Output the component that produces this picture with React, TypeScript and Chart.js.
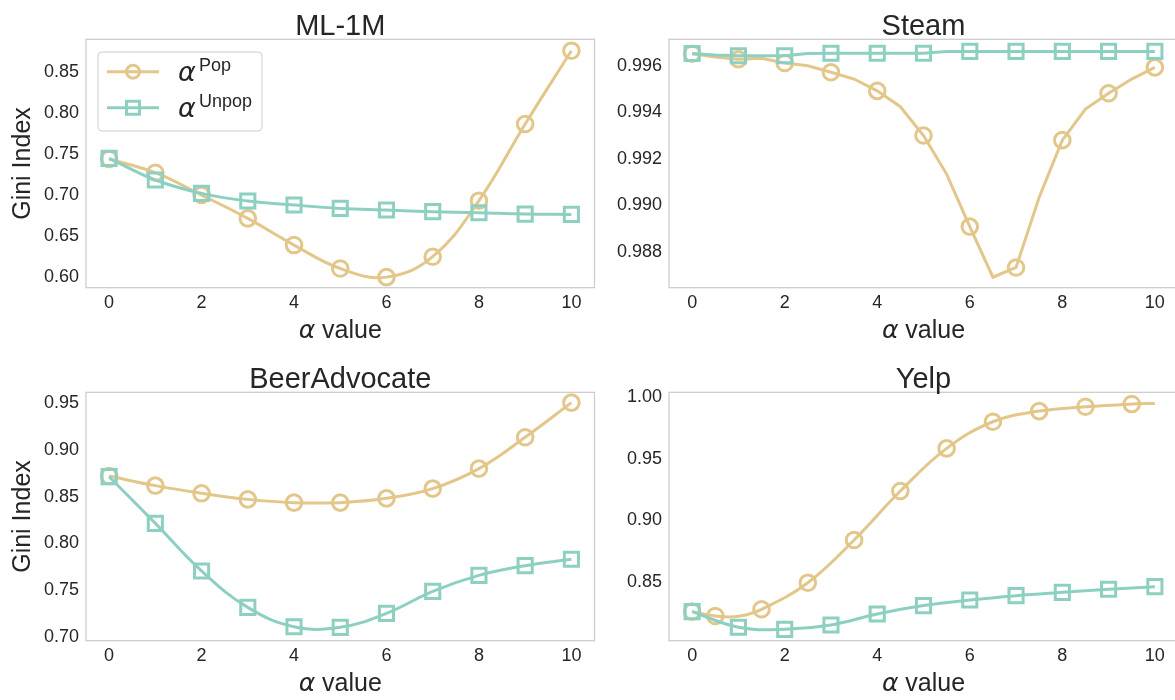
import React, { useEffect, useRef } from "react";
import { Chart, registerables } from "chart.js";

Chart.register(...registerables);

// ---------------- data ----------------
const alphaTicks = [0, 2, 4, 6, 8, 10];
const intX = [0, 1, 2, 3, 4, 5, 6, 7, 8, 9, 10];
const halfX = [0, 0.5, 1, 1.5, 2, 2.5, 3, 3.5, 4, 4.5, 5, 5.5, 6, 6.5, 7, 7.5, 8, 8.5, 9, 9.5, 10];

// ML-1M
const mlPop = [0.7435, 0.7268, 0.6996, 0.6711, 0.6386, 0.6100, 0.5995, 0.6244, 0.6927, 0.7862, 0.8756];
const mlUnpop = [0.7443, 0.7179, 0.7016, 0.6923, 0.6874, 0.6833, 0.6813, 0.6793, 0.6780, 0.6764, 0.6760];
const mlYTicks = [0.60, 0.65, 0.70, 0.75, 0.80, 0.85];

// Steam (half-step line, markers on integers)
const steamPop = [0.99652, 0.99638, 0.99628, 0.99632, 0.99612, 0.99600, 0.99572, 0.99543, 0.99492, 0.99424, 0.99300,
  0.99134, 0.98908, 0.98690, 0.98732, 0.99034, 0.99280, 0.99414, 0.99482, 0.99543, 0.99593];
const steamUnpop = [0.99653, 0.99646, 0.99643, 0.99643, 0.99643, 0.99653, 0.99654, 0.99654, 0.99654, 0.99654, 0.99654,
  0.99662, 0.99662, 0.99662, 0.99662, 0.99662, 0.99662, 0.99662, 0.99662, 0.99662, 0.99662];
const steamYTicks = [0.988, 0.990, 0.992, 0.994, 0.996];

// BeerAdvocate
const beerPop = [0.8721, 0.8618, 0.8536, 0.8471, 0.8436, 0.8436, 0.8482, 0.8586, 0.8800, 0.9136, 0.9507];
const beerUnpop = [0.8714, 0.8214, 0.7704, 0.7314, 0.7107, 0.7100, 0.7250, 0.7486, 0.7657, 0.7761, 0.7829];
const beerYTicks = [0.70, 0.75, 0.80, 0.85, 0.90, 0.95];

// Yelp
const yelpPopX = [0, 0.5, 1, 1.5, 2.5, 3.5, 4.5, 5.5, 6.5, 7.5, 8.5, 9.5, 10];
const yelpPop = [0.8263, 0.8228, 0.8225, 0.8282, 0.8497, 0.8842, 0.9238, 0.9583, 0.9798, 0.9884, 0.9919, 0.9941, 0.9946];
const yelpPopMarkers = [0, 0.5, 1.5, 2.5, 3.5, 4.5, 5.5, 6.5, 7.5, 8.5, 9.5];
const yelpUnpop = [0.8263, 0.8137, 0.8120, 0.8155, 0.8244, 0.8312, 0.8357, 0.8392, 0.8419, 0.8444, 0.8465];
const yelpYTicks = [0.85, 0.90, 0.95, 1.00];

// ---------------- style ----------------
const POP = "#e3c68a";
const UNPOP = "#8dd0c2";
const TEXT = "#262626";
const SANS = '"Liberation Sans", Arial, sans-serif';
const MATH = '"DejaVu Sans", sans-serif';

type Series = { x: number[]; y: number[]; markers: number[]; kind: "pop" | "unpop"; tension: number };
type PanelCfg = {
  title: string;
  left: number; top: number; width: number; height: number;
  area: { left: number; top: number; right: number; bottom: number };
  yMin: number; yMax: number; yTicks: number[]; yDec: number;
  yTitle: boolean; legend: boolean;
  series: Series[];
};

function drawAlphaLabel(ctx: CanvasRenderingContext2D, cx: number, baseline: number, size: number, rest: string) {
  ctx.font = `italic ${size}px ${MATH}`;
  const wa = ctx.measureText("\u03b1").width;
  ctx.font = `${size}px ${SANS}`;
  const wr = ctx.measureText(rest).width;
  const x0 = cx - (wa + wr) / 2;
  ctx.textAlign = "left";
  ctx.textBaseline = "alphabetic";
  ctx.font = `italic ${size}px ${MATH}`;
  ctx.fillText("\u03b1", x0, baseline);
  ctx.font = `${size}px ${SANS}`;
  ctx.fillText(rest, x0 + wa, baseline);
}

function Panel({ cfg }: { cfg: PanelCfg }) {
  const ref = useRef<HTMLCanvasElement | null>(null);
  useEffect(() => {
    if (!ref.current) return;
    const a = cfg.area;
    const decor = {
      id: "decor" + cfg.title,
      afterDraw(chart: any) {
        const ctx = chart.ctx as CanvasRenderingContext2D;
        const ca = chart.chartArea;
        ctx.save();
        // frame
        ctx.strokeStyle = "#cccccc";
        ctx.lineWidth = 1.25;
        ctx.strokeRect(ca.left, ca.top, ca.right - ca.left, ca.bottom - ca.top);
        ctx.fillStyle = TEXT;
        // title
        ctx.font = `29px ${SANS}`;
        ctx.textAlign = "center";
        ctx.textBaseline = "alphabetic";
        ctx.fillText(cfg.title, (ca.left + ca.right) / 2, ca.top - 4.5);
        // x title
        drawAlphaLabel(ctx, (ca.left + ca.right) / 2, ca.bottom + 50, 25, " value");
        // y title
        if (cfg.yTitle) {
          ctx.save();
          ctx.translate(29.5, (ca.top + ca.bottom) / 2);
          ctx.rotate(-Math.PI / 2);
          ctx.font = `25px ${SANS}`;
          ctx.textAlign = "center";
          ctx.textBaseline = "alphabetic";
          ctx.fillText("Gini Index", 0, 0);
          ctx.restore();
        }
        // legend
        if (cfg.legend) {
          const bx = 98, by = 52, bw = 164, bh = 79;
          ctx.beginPath();
          (ctx as any).roundRect(bx, by, bw, bh, 4);
          ctx.fillStyle = "rgba(255,255,255,0.85)";
          ctx.fill();
          ctx.strokeStyle = "#cccccc";
          ctx.lineWidth = 1;
          ctx.stroke();
          const rows = [
            { y: 71.7, color: POP, kind: "pop", sup: "Pop" },
            { y: 107.7, color: UNPOP, kind: "unpop", sup: "Unpop" },
          ];
          rows.forEach((r) => {
            ctx.strokeStyle = r.color;
            ctx.lineWidth = 3;
            ctx.beginPath();
            ctx.moveTo(107, r.y);
            ctx.lineTo(159, r.y);
            ctx.stroke();
            ctx.beginPath();
            if (r.kind === "pop") ctx.arc(133, r.y, 6.5, 0, Math.PI * 2);
            else ctx.rect(133 - 6.5, r.y - 6.5, 13, 13);
            ctx.stroke();
            ctx.fillStyle = TEXT;
            ctx.textAlign = "left";
            ctx.textBaseline = "alphabetic";
            ctx.font = `italic 27px ${MATH}`;
            ctx.fillText("\u03b1", 178, r.y + 9);
            ctx.font = `18px ${SANS}`;
            ctx.fillText(r.sup, 199, r.y - 0.5);
          });
        }
        ctx.restore();
      },
    };

    const datasets = cfg.series.map((s) => {
      const isPop = s.kind === "pop";
      const color = isPop ? POP : UNPOP;
      const r = isPop ? 7.8 : 10;
      return {
        label: isPop ? "Pop" : "Unpop",
        data: s.x.map((xv, i) => ({ x: xv, y: s.y[i] })),
        borderColor: color,
        backgroundColor: "rgba(0,0,0,0)",
        borderWidth: 3,
        tension: s.tension,
        pointStyle: isPop ? "circle" : "rect",
        pointRadius: s.x.map((xv) => (s.markers.includes(xv) ? r : 0)),
        pointHoverRadius: 0,
        pointBorderWidth: 3,
        pointBorderColor: color,
        pointBackgroundColor: "rgba(0,0,0,0)",
        order: isPop ? 1 : 0,
        clip: false as any,
      };
    });

    const chart = new Chart(ref.current, {
      type: "line",
      data: { datasets },
      plugins: [decor],
      options: {
        responsive: false,
        animation: false,
        devicePixelRatio: 1,
        layout: { padding: { left: 0, top: a.top, right: cfg.width - a.right, bottom: 0 } },
        plugins: { legend: { display: false }, tooltip: { enabled: false }, title: { display: false } },
        events: [],
        scales: {
          x: {
            type: "linear",
            min: -0.5,
            max: 10.5,
            grid: { display: false, drawTicks: false },
            border: { display: false },
            afterBuildTicks: (s: any) => { s.ticks = alphaTicks.map((v) => ({ value: v })); },
            afterFit: (s: any) => {
              s.height = cfg.height - a.bottom;
              s.paddingLeft = 0;
              s.paddingRight = 0;
            },
            ticks: {
              autoSkip: false, maxRotation: 0, padding: 5, color: TEXT,
              font: { family: SANS, size: 18 },
              callback: (v: any) => String(v),
            },
          },
          y: {
            type: "linear",
            min: cfg.yMin,
            max: cfg.yMax,
            grid: { display: false, drawTicks: false },
            border: { display: false },
            afterBuildTicks: (s: any) => { s.ticks = cfg.yTicks.map((v) => ({ value: v })); },
            afterFit: (s: any) => {
              s.width = a.left;
              s.paddingTop = 0;
              s.paddingBottom = 0;
            },
            ticks: {
              autoSkip: false, padding: 7, color: TEXT,
              font: { family: SANS, size: 18 },
              callback: (v: any) => Number(v).toFixed(cfg.yDec),
            },
          },
        },
      } as any,
    });
    return () => chart.destroy();
  }, [cfg]);
  return (
    <canvas
      ref={ref}
      width={cfg.width}
      height={cfg.height}
      style={{ position: "absolute", left: cfg.left, top: cfg.top, width: cfg.width, height: cfg.height }}
    />
  );
}

const panels: PanelCfg[] = [
  {
    title: "ML-1M", left: 0, top: 0, width: 615, height: 345,
    area: { left: 86, top: 39.3, right: 594.5, bottom: 287.7 },
    yMin: 0.5866, yMax: 0.8895, yTicks: mlYTicks, yDec: 2, yTitle: true, legend: true,
    series: [
      { x: intX, y: mlPop, markers: intX, kind: "pop", tension: 0.4 },
      { x: intX, y: mlUnpop, markers: intX, kind: "unpop", tension: 0.4 },
    ],
  },
  {
    title: "Steam", left: 600, top: 0, width: 600, height: 345,
    area: { left: 69, top: 39.3, right: 578, bottom: 287.7 },
    yMin: 0.98645, yMax: 0.99714, yTicks: steamYTicks, yDec: 3, yTitle: false, legend: false,
    series: [
      { x: halfX, y: steamPop, markers: intX, kind: "pop", tension: 0 },
      { x: halfX, y: steamUnpop, markers: intX, kind: "unpop", tension: 0 },
    ],
  },
  {
    title: "BeerAdvocate", left: 0, top: 345, width: 615, height: 355,
    area: { left: 86, top: 47.3, right: 594.5, bottom: 295.7 },
    yMin: 0.6957, yMax: 0.9618, yTicks: beerYTicks, yDec: 2, yTitle: true, legend: false,
    series: [
      { x: intX, y: beerPop, markers: intX, kind: "pop", tension: 0.4 },
      { x: intX, y: beerUnpop, markers: intX, kind: "unpop", tension: 0.4 },
    ],
  },
  {
    title: "Yelp", left: 600, top: 345, width: 600, height: 355,
    area: { left: 69, top: 47.3, right: 578, bottom: 295.7 },
    yMin: 0.8028, yMax: 1.0036, yTicks: yelpYTicks, yDec: 2, yTitle: false, legend: false,
    series: [
      { x: yelpPopX, y: yelpPop, markers: yelpPopMarkers, kind: "pop", tension: 0.4 },
      { x: intX, y: yelpUnpop, markers: intX, kind: "unpop", tension: 0.4 },
    ],
  },
];

export default function App() {
  return (
    <div
      style={{
        position: "fixed", left: 0, top: 0, width: 1175, height: 700,
        overflow: "hidden", background: "#ffffff",
      }}
    >
      {panels.map((p) => (
        <Panel key={p.title} cfg={p} />
      ))}
    </div>
  );
}
